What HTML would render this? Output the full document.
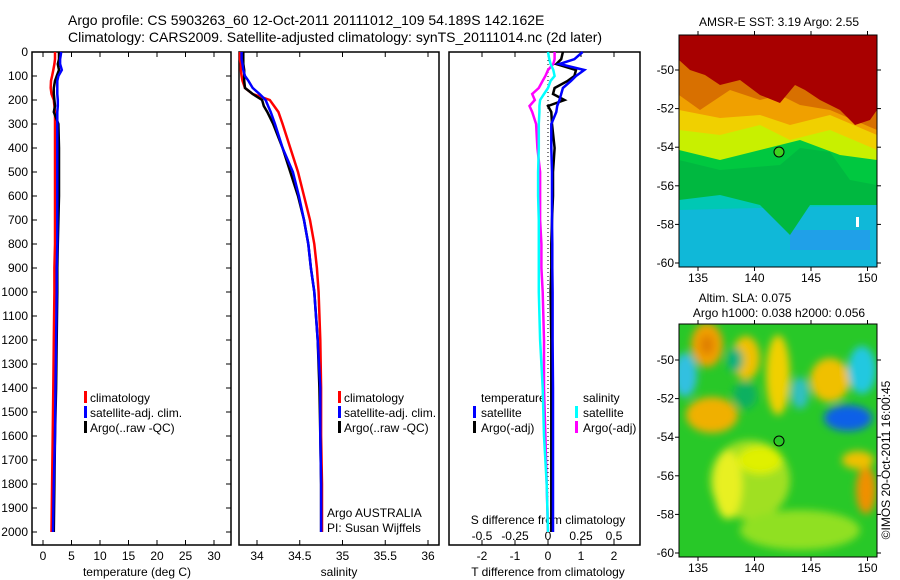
<!DOCTYPE html>
<html><head><meta charset="utf-8">
<style>
html,body{margin:0;padding:0;background:#fff;}
svg{display:block;font-family:"Liberation Sans",sans-serif;}
</style></head>
<body>
<svg id="c" width="900" height="580" viewBox="0 0 900 580">
<defs>
<filter id="bl" x="-50%" y="-50%" width="200%" height="200%"><feGaussianBlur stdDeviation="4"/></filter>
<clipPath id="clip1"><rect x="679" y="35" width="198" height="232"/></clipPath>
<clipPath id="clip2"><rect x="679" y="324" width="198" height="233"/></clipPath>
</defs>
<text x="68" y="25" font-size="14">Argo profile: CS 5903263_60 12-Oct-2011 20111012_109 54.189S 142.162E</text>
<text x="68" y="42" font-size="14">Climatology: CARS2009. Satellite-adjusted climatology: synTS_20111014.nc (2d later)</text>

<!-- SST map -->
<g clip-path="url(#clip1)">
<rect x="679" y="35" width="198" height="232" fill="#00c8a0"/>
<path d="M679,170 L877,170 L877,267 L679,267Z" fill="#00c8b4"/>
<path d="M679,210 L877,205 L877,267 L679,267Z" fill="#10b8d8"/>
<rect x="790" y="230" width="80" height="20" fill="#20a0e8"/>
<path d="M679,200 L720,195 L760,205 L790,235 L810,205 L877,205 L877,100 L679,100Z" fill="#00b840"/>
<path d="M679,160 L720,170 L780,165 L800,148 L830,152 L850,180 L877,185 L877,100 L679,100Z" fill="#00c840"/>
<path d="M679,150 L720,160 L760,150 L800,140 L840,155 L877,160 L877,100 L679,100Z" fill="#c8f000"/>
<path d="M679,130 L720,135 L760,125 L790,140 L830,130 L877,150 L877,60 L679,60Z" fill="#f0d000"/>
<path d="M679,110 L720,118 L760,115 L790,125 L830,115 L877,135 L877,60 L679,60Z" fill="#f0a000"/>
<path d="M679,95 L700,110 L730,90 L760,100 L780,95 L800,105 L830,110 L877,130 L877,60 L679,60Z" fill="#d87000"/>
<path d="M679,60 L690,70 L705,75 L720,85 L740,80 L760,95 L780,103 L795,85 L805,90 L820,100 L840,110 L855,125 L870,120 L877,110 L877,35 L679,35Z" fill="#a80000"/>
<rect x="856" y="217" width="3" height="10" fill="#fff"/>
</g>
<rect x="679" y="35" width="198" height="232" fill="none" stroke="#000"/>
<circle cx="779" cy="152" r="5" fill="#40d020" stroke="#000"/>
<text x="779" y="26" font-size="12" text-anchor="middle">AMSR-E SST: 3.19 Argo: 2.55</text>

<!-- SLA map -->
<g clip-path="url(#clip2)">
<rect x="679" y="324" width="198" height="233" fill="#28c828"/>
<g filter="url(#bl)">
<ellipse cx="750" cy="480" rx="40" ry="40" fill="#a0e020"/>
<ellipse cx="800" cy="530" rx="60" ry="20" fill="#90e020"/>
<ellipse cx="707" cy="345" rx="16" ry="22" fill="#f0a000"/>
<ellipse cx="707" cy="345" rx="7" ry="10" fill="#e08000"/>
<ellipse cx="746" cy="358" rx="14" ry="22" fill="#f0c000"/>
<ellipse cx="778" cy="375" rx="12" ry="40" fill="#f0d000"/>
<ellipse cx="712" cy="415" rx="26" ry="18" fill="#f0b000"/>
<ellipse cx="760" cy="460" rx="22" ry="14" fill="#e0f000"/>
<ellipse cx="728" cy="485" rx="14" ry="34" fill="#e8f020"/>
<ellipse cx="830" cy="380" rx="20" ry="22" fill="#f0c000"/>
<ellipse cx="866" cy="490" rx="10" ry="24" fill="#f09000"/>
<ellipse cx="858" cy="460" rx="16" ry="9" fill="#f0c000"/>
<ellipse cx="862" cy="370" rx="14" ry="24" fill="#20c8e0"/>
<ellipse cx="848" cy="418" rx="24" ry="13" fill="#1060e8"/>
<ellipse cx="685" cy="375" rx="12" ry="22" fill="#30c0e0"/>
<ellipse cx="800" cy="393" rx="9" ry="16" fill="#30c0c0"/>
<ellipse cx="745" cy="395" rx="12" ry="14" fill="#10b060"/>
<ellipse cx="735" cy="360" rx="8" ry="12" fill="#10b080"/>
</g>
</g>
<rect x="679" y="324" width="198" height="233" fill="none" stroke="#000"/>
<circle cx="779" cy="441" r="5" fill="none" stroke="#000"/>
<text x="745" y="302" font-size="12" text-anchor="middle">Altim. SLA: 0.075</text>
<text x="779" y="317" font-size="12" text-anchor="middle">Argo h1000: 0.038 h2000: 0.056</text>
<text transform="translate(890,460) rotate(-90)" font-size="12" text-anchor="middle">©IMOS 20-Oct-2011 16:00:45</text>

<!-- legends & annotations -->
<g font-size="12">
<rect x="84" y="391" width="3" height="12" fill="#f00"/><text x="90" y="402">climatology</text>
<rect x="84" y="406" width="3" height="12" fill="#00f"/><text x="90" y="417">satellite-adj. clim.</text>
<rect x="84" y="421" width="3" height="12" fill="#000"/><text x="90" y="432">Argo(..raw -QC)</text>
</g>
<g font-size="12">
<rect x="338" y="391" width="3" height="12" fill="#f00"/><text x="344" y="402">climatology</text>
<rect x="338" y="406" width="3" height="12" fill="#00f"/><text x="344" y="417">satellite-adj. clim.</text>
<rect x="338" y="421" width="3" height="12" fill="#000"/><text x="344" y="432">Argo(..raw -QC)</text>
</g>
<g font-size="12">
<text x="481" y="402">temperature</text><text x="583" y="402">salinity</text>
<rect x="473" y="406" width="3" height="12" fill="#00f"/><text x="481" y="417">satellite</text>
<rect x="575" y="406" width="3" height="12" fill="#0ff"/><text x="583" y="417">satellite</text>
<rect x="473" y="421" width="3" height="12" fill="#000"/><text x="481" y="432">Argo(-adj)</text>
<rect x="575" y="421" width="3" height="12" fill="#f0f"/><text x="583" y="432">Argo(-adj)</text>
</g>
<text x="327" y="517" font-size="12">Argo AUSTRALIA</text>
<text x="327" y="532" font-size="12">PI: Susan Wijffels</text>
<text x="548" y="524" font-size="12" text-anchor="middle">S difference from climatology</text>
<text x="137" y="576" font-size="12" text-anchor="middle">temperature (deg C)</text>
<text x="339" y="576" font-size="12" text-anchor="middle">salinity</text>
<text x="548" y="576" font-size="12" text-anchor="middle">T difference from climatology</text>
</svg>
<script>
const depths=[0,30,50,75,100,120,150,175,200,225,250,300,400,500,600,700,800,900,1000,1200,1400,1600,1800,2000];
const tempClim=[2.1,2.1,2.0,1.8,1.6,1.4,1.35,1.5,1.9,2.0,2.1,2.1,2.1,2.1,2.1,2.1,2.1,2.0,2.0,1.9,1.8,1.7,1.6,1.5];
const tempSat=[3.2,3.0,3.0,3.3,2.7,2.5,2.5,2.5,2.6,2.6,2.5,2.5,2.5,2.5,2.5,2.5,2.5,2.4,2.4,2.3,2.2,2.1,1.9,1.75];
const tempArgo=[2.8,2.8,2.6,2.8,2.4,2.1,1.9,1.9,2.0,2.1,1.9,2.7,2.8,2.8,2.8,2.7,2.6,2.5,2.5,2.4,2.3,2.1,2.0,1.9];
const salClim=[33.8,33.8,33.81,33.81,33.82,33.83,33.86,33.95,34.15,34.2,34.25,34.3,34.39,34.48,34.55,34.62,34.67,34.7,34.72,34.74,34.75,34.75,34.76,34.76];
const salSat=[33.82,33.82,33.83,33.84,33.86,33.9,33.95,34.03,34.1,34.13,34.16,34.21,34.3,34.42,34.49,34.55,34.6,34.63,34.67,34.71,34.74,34.74,34.75,34.75];
const salArgo=[33.84,33.84,33.84,33.85,33.85,33.85,33.86,33.95,34.06,34.08,34.12,34.19,34.3,34.39,34.48,34.55,34.6,34.63,34.67,34.71,34.73,34.74,34.75,34.75];
const dTSat=[1.05,0.8,0.35,1.1,0.85,0.7,0.45,0.4,0.35,0.28,0.25,0.1,0.1,0.12,0.12,0.12,0.13,0.13,0.14,0.14,0.15,0.15,0.15,0.15];
const dTArgo=[0.45,0.4,0.25,0.85,0.8,0.6,0.2,0.15,0.5,0.0,0.1,0.12,0.2,0.15,0.15,0.12,0.1,0.1,0.08,0.1,0.1,0.1,0.1,0.1];
const dSSat=[0.0,0.01,0.02,0.04,0.05,0.02,0.0,-0.03,-0.06,-0.065,-0.065,-0.07,-0.07,-0.075,-0.075,-0.07,-0.07,-0.07,-0.07,-0.06,-0.04,-0.03,-0.01,0.0];
const dSArgo=[0.05,0.05,0.04,0.0,-0.02,-0.04,-0.07,-0.12,-0.1,-0.14,-0.12,-0.09,-0.08,-0.06,-0.06,-0.06,-0.05,-0.05,-0.04,-0.03,-0.03,-0.02,-0.01,0.0];
const depthTicks=[0,100,200,300,400,500,600,700,800,900,1000,1100,1200,1300,1400,1500,1600,1700,1800,1900,2000];
const tempTicks=[0,5,10,15,20,25,30];
const salTicks=[34,34.5,35,35.5,36];
const tdTicks=[-2,-1,0,1,2];
const sdTicks=[-0.5,-0.25,0,0.25,0.5];
const lonTicks=[135,140,145,150];
const latTicks=[-50,-52,-54,-56,-58,-60];

const svg=document.getElementById('c');
const NS='http://www.w3.org/2000/svg';
const yD=d=>52+0.24*d;
const xT=t=>43+5.7*t;
const xS=s=>257+85.5*(s-34);
const xTD=t=>548+33*t;
const xSD=s=>548+132*s;
const xLon=l=>698+11.3*(l-135);
const yLat1=l=>70+(-50-l)*19.3;
const yLat2=l=>360+(-50-l)*19.3;

function el(tag,attrs){const e=document.createElementNS(NS,tag);for(const k in attrs)e.setAttribute(k,attrs[k]);svg.appendChild(e);return e;}

const panels=[[32,199],[239,200],[449,191]];
panels.forEach((p,i)=>{
  const r=el('rect',{x:p[0],y:52,width:p[1],height:493,fill:'none',stroke:'#000','stroke-width':1.5});
  
  
});
depthTicks.forEach(d=>{
  const t=el('text',{x:28,y:yD(d)+4,'font-size':12,'text-anchor':'end'});t.textContent=d;
  
  
  el('line',{x1:32,x2:37,y1:yD(d),y2:yD(d),stroke:'#000'});
  el('line',{x1:226,x2:231,y1:yD(d),y2:yD(d),stroke:'#000'});
});
function xticks(arr,fx,lab){arr.forEach(v=>{const x=fx(v);
  el('line',{x1:x,x2:x,y1:52,y2:57,stroke:'#000'});el('line',{x1:x,x2:x,y1:540,y2:545,stroke:'#000'});
  const t=el('text',{x:x,y:560,'font-size':12,'text-anchor':'middle'});t.textContent=v;
  
  });}
xticks(tempTicks,xT,'temperature-tick-label');
xticks(salTicks,xS,'salinity-tick-label');
xticks(tdTicks,xTD,'t-diff-tick-label');
sdTicks.forEach(v=>{const t=el('text',{x:xSD(v),y:540,'font-size':12,'text-anchor':'middle'});t.textContent=v;
  
  });
const zl=el('line',{x1:xTD(0),x2:xTD(0),y1:yD(0),y2:yD(2000),stroke:'#000','stroke-dasharray':'1,3'});



function line(vals,fx,color,name){
  const pts=vals.map((v,i)=>fx(v).toFixed(1)+','+yD(depths[i]).toFixed(1)).join(' ');
  const p=el('polyline',{points:pts,fill:'none',stroke:color,'stroke-width':2.5});
  
  
}
line(tempClim,xT,'#f00','temperature-climatology-line');
line(tempArgo,xT,'#000','temperature-argo-line');
line(tempSat,xT,'#00f','temperature-satellite-line');
line(salClim,xS,'#f00','salinity-climatology-line');
line(salArgo,xS,'#000','salinity-argo-line');
line(salSat,xS,'#00f','salinity-satellite-line');
line(dSArgo,xSD,'#f0f','s-diff-argo-line');
line(dTArgo,xTD,'#000','t-diff-argo-line');
line(dTSat,xTD,'#00f','t-diff-satellite-line');
line(dSSat,xSD,'#0ff','s-diff-satellite-line');

[[yLat1,35,267],[yLat2,324,557]].forEach((m,mi)=>{
  lonTicks.forEach(l=>{const x=xLon(l);
    el('line',{x1:x,x2:x,y1:m[1]-4,y2:m[1],stroke:'#000'});
    el('line',{x1:x,x2:x,y1:m[2],y2:m[2]+4,stroke:'#000'});
    const t=el('text',{x:x,y:m[2]+15,'font-size':12,'text-anchor':'middle'});t.textContent=l;
    
    });
  latTicks.forEach(l=>{const y=m[0](l);
    el('line',{x1:675,x2:679,y1:y,y2:y,stroke:'#000'});
    el('line',{x1:877,x2:881,y1:y,y2:y,stroke:'#000'});
    const t=el('text',{x:674,y:y+4,'font-size':12,'text-anchor':'end'});t.textContent=l;
    
    });
});
</script>
</body></html>
